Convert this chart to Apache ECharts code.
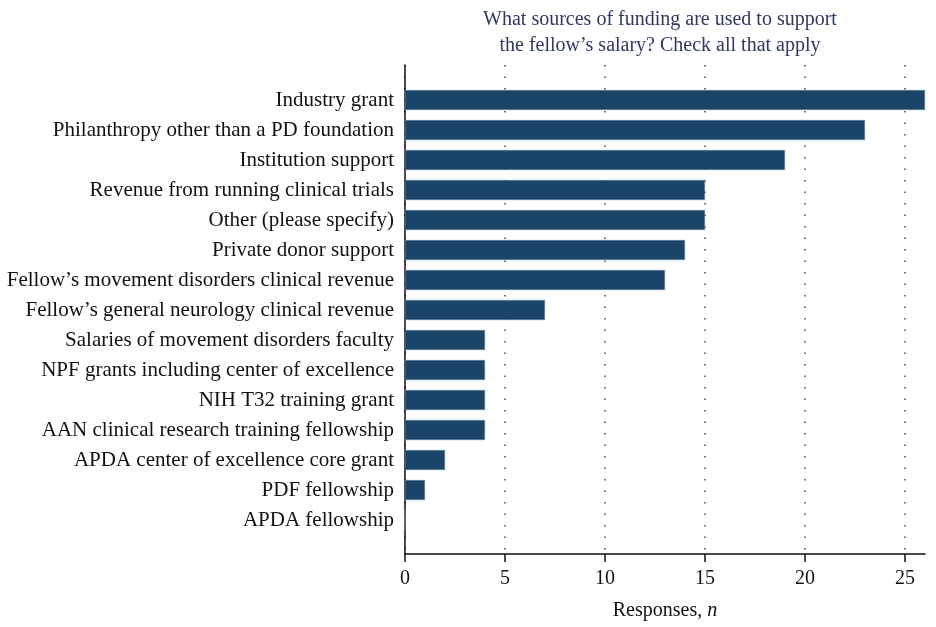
<!DOCTYPE html>
<html lang="en">
<head>
    <meta charset="UTF-8">
    <title>Funding sources for fellow salary</title>
    <script src="https://cdn.jsdelivr.net/npm/echarts@6/dist/echarts.min.js"></script>
    <style>
        html, body { margin: 0; padding: 0; background: #fff; }
        #chart { width: 936px; height: 627px; }
    </style>
</head>
<body>
<div id="chart"></div>
<script>
    // data
    var categories = [
        'Industry grant',
        'Philanthropy other than a PD foundation',
        'Institution support',
        'Revenue from running clinical trials',
        'Other (please specify)',
        'Private donor support',
        'Fellow\u2019s movement disorders clinical revenue',
        'Fellow\u2019s general neurology clinical revenue',
        'Salaries of movement disorders faculty',
        'NPF grants including center of excellence',
        'NIH T32 training grant',
        'AAN clinical research training fellowship',
        'APDA center of excellence core grant',
        'PDF fellowship',
        'APDA fellowship'
    ];
    var responses = [26, 23, 19, 15, 15, 14, 13, 7, 4, 4, 4, 4, 2, 1, 0];
    var xTicks = [0, 5, 10, 15, 20, 25];

    var serif = '"Liberation Serif", "DejaVu Serif", serif';
    var chart = echarts.init(document.getElementById('chart'));

    chart.setOption({
        animation: false,
        title: {
            text: 'What sources of funding are used to support\nthe fellow\u2019s salary? Check all that apply',
            left: 655,
            top: 2,
            textAlign: 'center',
            textStyle: {
                fontFamily: serif,
                fontWeight: 'normal',
                fontSize: 20,
                lineHeight: 26,
                color: '#2c3a62'
            }
        },
        grid: [
            // axes frame
            {left: 405, right: 11, top: 65, bottom: 73},
            // bars
            {left: 405, right: 11, top: 85, height: 450}
        ],
        xAxis: [
            {
                gridIndex: 0,
                type: 'value',
                min: 0,
                max: 26,
                interval: 5,
                axisLine: {show: true, lineStyle: {color: '#111', width: 1.5}},
                axisTick: {show: true, length: 8, customValues: xTicks, lineStyle: {color: '#111', width: 1.5}},
                axisLabel: {
                    fontFamily: serif,
                    fontSize: 20,
                    color: '#111',
                    margin: 15,
                    customValues: xTicks
                },
                splitLine: {show: true, lineStyle: {color: '#444', type: [1.5, 10], width: 1.5}},
                name: '{a|Responses, }{b|n}',
                nameLocation: 'middle',
                nameGap: 47,
                nameTextStyle: {
                    rich: {
                        a: {fontFamily: serif, fontSize: 20, color: '#111'},
                        b: {fontFamily: serif, fontSize: 20, color: '#111', fontStyle: 'italic'}
                    }
                }
            },
            {
                gridIndex: 1,
                type: 'value',
                min: 0,
                max: 26,
                show: false
            }
        ],
        yAxis: [
            {
                gridIndex: 0,
                type: 'value',
                axisLine: {show: true, lineStyle: {color: '#111', width: 1.5}},
                axisTick: {show: false},
                axisLabel: {show: false},
                splitLine: {show: false}
            },
            {
                gridIndex: 1,
                type: 'category',
                inverse: true,
                data: categories,
                axisLine: {show: false},
                axisTick: {show: false},
                axisLabel: {
                    fontFamily: serif,
                    fontSize: 21,
                    color: '#111',
                    margin: 11
                }
            }
        ],
        series: [{
            type: 'bar',
            xAxisIndex: 1,
            yAxisIndex: 1,
            data: responses,
            barWidth: 20,
            itemStyle: {
                color: '#1a4569',
                borderColor: '#6f8aa3',
                borderWidth: 0.5
            }
        }]
    });
</script>
</body>
</html>
